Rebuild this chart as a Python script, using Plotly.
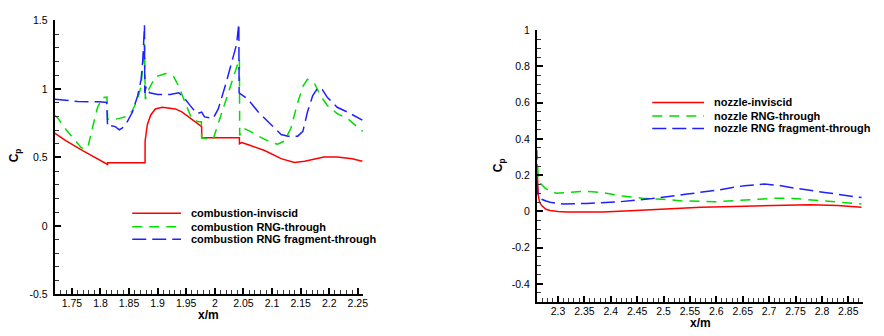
import plotly.graph_objects as go

# ---------------- data: combustion chamber (left) ----------------
comb_inv_x = [1.720, 1.740, 1.769, 1.798, 1.8125, 1.8126, 1.850, 1.878, 1.8781, 1.882, 1.888,
              1.896, 1.908, 1.931, 1.943, 1.960, 1.971, 1.977, 1.9771, 2.010, 2.043, 2.0431,
              2.047, 2.060, 2.087, 2.116, 2.139, 2.157, 2.191, 2.214, 2.240, 2.258]
comb_inv_y = [0.678, 0.620, 0.549, 0.479, 0.448, 0.460, 0.460, 0.460, 0.620, 0.739, 0.810,
              0.854, 0.866, 0.854, 0.831, 0.775, 0.740, 0.725, 0.643, 0.643, 0.643, 0.600,
              0.608, 0.590, 0.550, 0.491, 0.463, 0.472, 0.502, 0.502, 0.490, 0.472]

comb_rng_x = [1.720, 1.726, 1.740, 1.755, 1.766, 1.772, 1.778, 1.786, 1.795, 1.804, 1.8115,
              1.8125, 1.822, 1.833, 1.847, 1.856, 1.865, 1.871, 1.874, 1.877, 1.8785, 1.885,
              1.896, 1.914, 1.928, 1.937, 1.948, 1.960, 1.971, 1.9765, 1.977, 1.990, 1.997,
              2.009, 2.021, 2.032, 2.041, 2.043, 2.0435, 2.050, 2.062, 2.076, 2.099, 2.110,
              2.122, 2.133, 2.145, 2.154, 2.162, 2.174, 2.185, 2.197, 2.214, 2.232, 2.255, 2.259]
comb_rng_y = [0.808, 0.784, 0.702, 0.632, 0.573, 0.561, 0.575, 0.714, 0.866, 0.937, 0.940,
              0.780, 0.775, 0.785, 0.800, 0.843, 0.925, 1.019, 1.160, 1.330, 0.925, 1.000,
              1.089, 1.113, 1.090, 1.019, 0.901, 0.780, 0.760, 0.760, 0.643, 0.632, 0.632,
              0.784, 0.949, 1.089, 1.190, 1.220, 0.660, 0.713, 0.690, 0.655, 0.608, 0.596,
              0.620, 0.713, 0.901, 1.019, 1.070, 1.042, 0.949, 0.878, 0.819, 0.784, 0.702, 0.690]

comb_frag_x = [1.720, 1.760, 1.798, 1.811, 1.8125, 1.818, 1.826, 1.833, 1.838, 1.847, 1.856,
               1.865, 1.871, 1.874, 1.877, 1.8775, 1.880, 1.886, 1.900, 1.922, 1.937, 1.946,
               1.957, 1.969, 1.977, 1.982, 1.997, 2.006, 2.018, 2.029, 2.038, 2.042, 2.0425,
               2.058, 2.076, 2.099, 2.116, 2.128, 2.145, 2.154, 2.162, 2.171, 2.180, 2.188,
               2.197, 2.214, 2.232, 2.258]
comb_frag_y = [0.925, 0.908, 0.906, 0.901, 0.725, 0.732, 0.725, 0.702, 0.713, 0.761, 0.831,
               0.949, 1.066, 1.206, 1.465, 0.972, 1.019, 0.972, 0.960, 0.960, 0.972, 0.937,
               0.878, 0.819, 0.831, 0.796, 0.784, 0.854, 1.019, 1.183, 1.324, 1.477, 0.972,
               0.925, 0.831, 0.737, 0.667, 0.655, 0.655, 0.690, 0.831, 0.949, 1.007, 0.995,
               0.937, 0.866, 0.831, 0.772]

# ---------------- data: nozzle (right) ----------------
noz_inv_x = [2.2600, 2.2610, 2.2625, 2.2650, 2.269, 2.277, 2.285, 2.300, 2.316, 2.350, 2.385,
             2.447, 2.510, 2.571, 2.635, 2.684, 2.730, 2.778, 2.830, 2.875]
noz_inv_y = [0.262, 0.170, 0.090, 0.050, 0.032, 0.012, 0.005, 0.000, -0.003, -0.004, -0.003,
             0.005, 0.014, 0.023, 0.027, 0.032, 0.034, 0.037, 0.032, 0.023]

noz_rng_x = [2.2600, 2.2603, 2.2610, 2.2625, 2.266, 2.275, 2.285, 2.297, 2.310, 2.330, 2.347,
             2.365, 2.385, 2.422, 2.460, 2.497, 2.535, 2.597, 2.653, 2.690, 2.716, 2.747,
             2.780, 2.809, 2.845, 2.875]
noz_rng_y = [0.340, 0.300, 0.220, 0.180, 0.156, 0.130, 0.111, 0.100, 0.103, 0.108, 0.111,
             0.108, 0.103, 0.085, 0.073, 0.067, 0.058, 0.053, 0.062, 0.070, 0.073, 0.071,
             0.064, 0.055, 0.048, 0.041]

noz_frag_x = [2.2600, 2.2605, 2.2615, 2.2640, 2.269, 2.277, 2.285, 2.310, 2.354, 2.416, 2.478,
              2.541, 2.603, 2.653, 2.691, 2.720, 2.747, 2.809, 2.875]
noz_frag_y = [0.170, 0.140, 0.100, 0.080, 0.067, 0.057, 0.050, 0.041, 0.044, 0.053, 0.071,
              0.094, 0.118, 0.142, 0.151, 0.143, 0.129, 0.103, 0.076]

left_names = ["combustion-inviscid", "combustion RNG-through", "combustion RNG fragment-through"]
right_names = ["nozzle-inviscid", "nozzle RNG-through", "nozzle RNG fragment-through"]

left_yticks = [-0.5, 0, 0.5, 1, 1.5]
left_yticktext = ["-0.5", "0", "0.5", "1", "1.5"]
right_yticks = [-0.4, -0.2, 0, 0.2, 0.4, 0.6, 0.8, 1]
right_yticktext = ["-0.4", "-0.2", "0", "0.2", "0.4", "0.6", "0.8", "1"]

# ---------------- styles ----------------
COLORS = ["#ff0000", "#00dd00", "#2020ff"]
DASHES = ["solid", "10px,7px", "14px,6px"]
LW = 1.5
FONT = "Liberation Sans, Arial, sans-serif"

fig = go.Figure()

left_series = [(comb_inv_x, comb_inv_y), (comb_rng_x, comb_rng_y), (comb_frag_x, comb_frag_y)]
right_series = [(noz_inv_x, noz_inv_y), (noz_rng_x, noz_rng_y), (noz_frag_x, noz_frag_y)]

for i, (xs, ys) in enumerate(left_series):
    assert len(xs) == len(ys)
    fig.add_trace(go.Scatter(x=xs, y=ys, mode="lines", name=left_names[i], showlegend=False,
                             line=dict(color=COLORS[i], width=LW, dash=DASHES[i]),
                             xaxis="x", yaxis="y"))
for i, (xs, ys) in enumerate(right_series):
    assert len(xs) == len(ys)
    fig.add_trace(go.Scatter(x=xs, y=ys, mode="lines", name=right_names[i], showlegend=False,
                             line=dict(color=COLORS[i], width=LW, dash=DASHES[i]),
                             xaxis="x2", yaxis="y2"))

W, H = 884, 336
def px(xp):
    return xp / W
def py(yp):
    return 1 - yp / H

axis_common = dict(showline=True, linecolor="black", linewidth=2, showgrid=False, zeroline=False,
                   ticks="inside", ticklen=6, tickwidth=2, tickcolor="black",
                   tickfont=dict(family=FONT, size=10.5, color="black"), mirror=False)

fig.update_layout(
    width=W, height=H, margin=dict(l=0, r=0, t=0, b=0),
    paper_bgcolor="white", plot_bgcolor="white", showlegend=False,
    font=dict(family=FONT, color="black"),
    xaxis=dict(domain=[px(55), px(365)], range=[1.72, 2.259], anchor="y", dtick=0.05, tick0=0,
               ticklabelstandoff=-2,
               minor=dict(dtick=0.01, ticks="inside", ticklen=4, tickwidth=1, tickcolor="#333"),
               **axis_common),
    yaxis=dict(domain=[py(299), py(15)], range=[-0.5, 1.5], anchor="x",
               tickvals=left_yticks, ticktext=left_yticktext, ticklabelstandoff=3,
               minor=dict(dtick=0.1, tick0=0, ticks="inside", ticklen=4, tickwidth=1, tickcolor="#333"),
               **axis_common),
    xaxis2=dict(domain=[px(540), px(868)], range=[2.26, 2.878], anchor="y2", dtick=0.05, tick0=0,
                ticklabelstandoff=-2,
                minor=dict(dtick=0.01, ticks="inside", ticklen=4, tickwidth=1, tickcolor="#333"),
                **axis_common),
    yaxis2=dict(domain=[py(307), py(25)], range=[-0.5, 1], anchor="x2",
                tickvals=right_yticks, ticktext=right_yticktext, ticklabelstandoff=3,
                minor=dict(dtick=0.05, tick0=0, ticks="inside", ticklen=4, tickwidth=1, tickcolor="#333"),
                **axis_common),
)

ann = []
# axis titles
ann.append(dict(text="<b>x/m</b>", xref="x domain", yref="paper", x=0.5, y=py(320),
                xanchor="center", yanchor="middle", showarrow=False,
                font=dict(family=FONT, size=12, color="black")))
ann.append(dict(text="<b>x/m</b>", xref="x2 domain", yref="paper", x=0.5, y=py(328.5),
                xanchor="center", yanchor="middle", showarrow=False,
                font=dict(family=FONT, size=12, color="black")))
ann.append(dict(text="<b>C<sub>p</sub></b>", xref="paper", yref="paper", x=px(16), y=py(155),
                xanchor="center", yanchor="middle", showarrow=False, textangle=-90,
                font=dict(family=FONT, size=12, color="black")))
ann.append(dict(text="<b>C<sub>p</sub></b>", xref="paper", yref="paper", x=px(502), y=py(165),
                xanchor="center", yanchor="middle", showarrow=False, textangle=-90,
                font=dict(family=FONT, size=12, color="black")))

shapes = []
# legends (drawn manually to match the original's compact layout)
def add_legend(names, x0, x1, xt, rows):
    for i, name in enumerate(names):
        shapes.append(dict(type="line", xref="paper", yref="paper", x0=px(x0), x1=px(x1),
                           y0=py(rows[i]), y1=py(rows[i]),
                           line=dict(color=COLORS[i], width=LW, dash=DASHES[i])))
        ann.append(dict(text="<b>%s</b>" % name, xref="paper", yref="paper", x=px(xt), y=py(rows[i]),
                        xanchor="left", yanchor="middle", showarrow=False,
                        font=dict(family=FONT, size=11, color="black")))

add_legend(left_names, 133, 182, 190, [215, 229, 242])
add_legend(right_names, 656, 708, 716, [100, 114, 127])

fig.update_layout(annotations=ann, shapes=shapes)
fig.write_html("out.html")
